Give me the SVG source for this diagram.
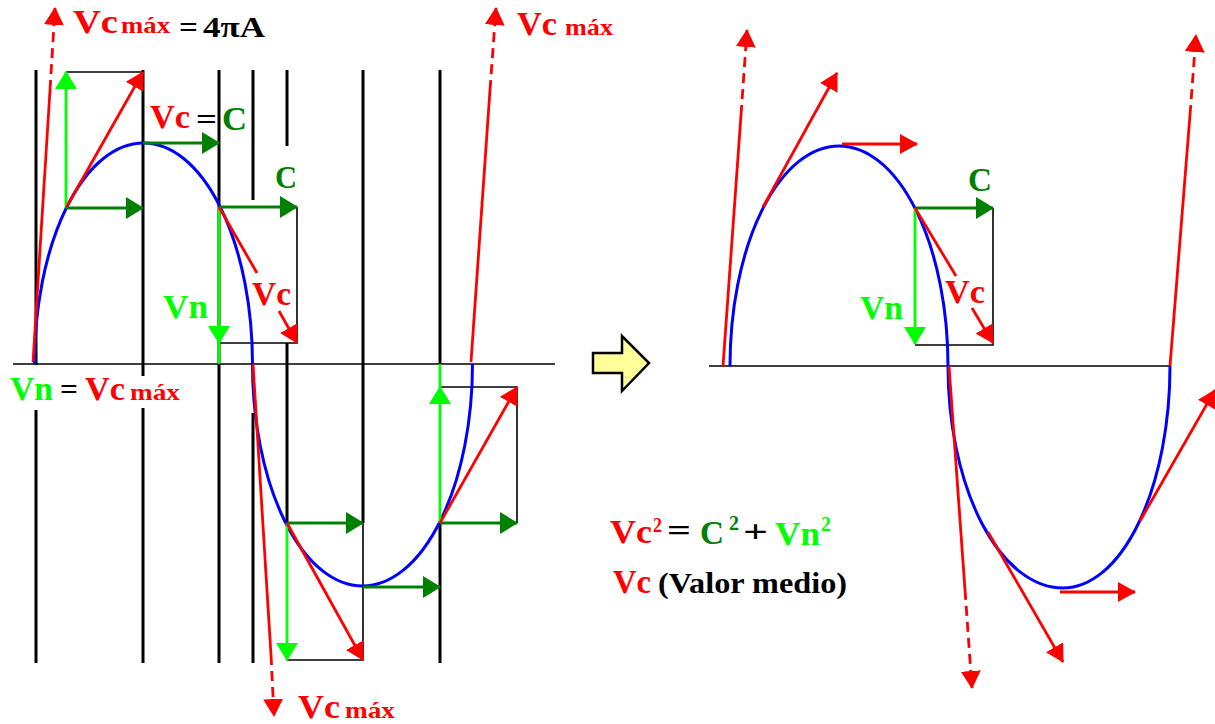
<svg xmlns="http://www.w3.org/2000/svg" width="1215" height="724" viewBox="0 0 1215 724">
<style>
.bg{fill:#fff}
.grid{stroke:#000;stroke-width:3;fill:none}
.thin{stroke:#000;stroke-width:1.6;fill:none}
.curve{stroke:#0000ff;stroke-width:3;fill:none}
.vr{stroke:#ff0000;stroke-width:2.8;fill:none}
.vrd{stroke:#ff0000;stroke-width:2.8;fill:none;stroke-dasharray:10 6}
.vg{stroke:#00ff00;stroke-width:2.8;fill:none}
.vdg{stroke:#008000;stroke-width:2.8;fill:none}
.t{font-family:"Liberation Serif","Times New Roman",serif;font-weight:bold}
.big{font-size:34px}
.sub{font-size:24px}
.r{fill:#ff0000}
.g{fill:#00ff00}
.dg{fill:#008000}
.k{fill:#000}
</style>
<defs>
<marker id="ar" viewBox="0 0 18 20" refX="17" refY="10" markerWidth="18" markerHeight="20" markerUnits="userSpaceOnUse" orient="auto"><path d="M0,0 L18,10 L0,20 z" fill="#ff0000"/></marker>
<marker id="ag" viewBox="0 0 18 22" refX="17" refY="11" markerWidth="18" markerHeight="22" markerUnits="userSpaceOnUse" orient="auto"><path d="M0,0 L18,11 L0,22 z" fill="#00ff00"/></marker>
<marker id="adg" viewBox="0 0 18 22" refX="17" refY="11" markerWidth="18" markerHeight="22" markerUnits="userSpaceOnUse" orient="auto"><path d="M0,0 L18,11 L0,22 z" fill="#008000"/></marker>
</defs>
<rect class="bg" x="0" y="0" width="1215" height="724"/>

<g id="left-grid">
<path class="grid" d="M36,70 V365 M36,410 V663 M143,70 V376 M143,408 V663 M219,70 V663 M253,70 V200 M253,413 V663 M287,70 V146 M287,343 V523 M363,70 V523 M440,70 V364 M440,523 V663"/>
<path class="thin" d="M13,364 H555 M66,72 H143 M219,343 H297 V207 M287,660 H363 V523 M440,387 H517 V523"/>
</g>

<g id="right-grid">
<path class="thin" d="M709,366 H1169 M915,345 H993 V208"/>
</g>

<g id="curves">
<path class="curve" d="M34.5,364 A109,221 0 0 1 252.5,364 A110,222 0 0 0 472.5,364"/>
<path class="curve" d="M730,366 A109,220 0 0 1 948,366 A115,222 0 0 0 1063,588 A107,222 0 0 0 1170,366"/>
</g>

<g id="connectors">
<path class="vr" d="M33,362 L50,90"/>
<path class="vrd" d="M50,90 L55,8" marker-end="url(#ar)"/>
<path class="vg" d="M66,208 L66,72" marker-end="url(#ag)"/>
<path class="vr" d="M66,208 L143,72" marker-end="url(#ar)"/>
<path class="vdg" d="M66,208 L143,208" marker-end="url(#adg)"/>
<path class="vdg" d="M143,143 L219,143" marker-end="url(#adg)"/>
<path class="vdg" d="M219,207 L297,207" marker-end="url(#adg)"/>
<path class="vg" d="M219,207 L219,343" marker-end="url(#ag)"/>
<path class="vg" d="M219,343 L219,364"/>
<path class="vr" d="M219,207 L257,273"/>
<path class="vr" d="M279,311 L297,343" marker-end="url(#ar)"/>
<path class="vr" d="M253,364 L271,655"/>
<path class="vrd" d="M271,655 L274,716" marker-end="url(#ar)"/>
<path class="vdg" d="M287,523 L363,523" marker-end="url(#adg)"/>
<path class="vg" d="M287,523 L287,660" marker-end="url(#ag)"/>
<path class="vr" d="M287,523 L363,660" marker-end="url(#ar)"/>
<path class="vdg" d="M363,587 L440,587" marker-end="url(#adg)"/>
<path class="vg" d="M440,523 L440,387" marker-end="url(#ag)"/>
<path class="vg" d="M440,387 L440,364"/>
<path class="vdg" d="M440,523 L517,523" marker-end="url(#adg)"/>
<path class="vr" d="M440,523 L517,387" marker-end="url(#ar)"/>
<path class="vr" d="M471,362 L490,90"/>
<path class="vrd" d="M490,90 L496,8" marker-end="url(#ar)"/>
<path class="vr" d="M723,366 L741,115"/>
<path class="vrd" d="M741,115 L747,30" marker-end="url(#ar)"/>
<path class="vr" d="M763,207 L837,73" marker-end="url(#ar)"/>
<path class="vr" d="M842,144 L917,144" marker-end="url(#ar)"/>
<path class="vdg" d="M915,208 L993,208" marker-end="url(#adg)"/>
<path class="vg" d="M915,208 L915,344" marker-end="url(#ag)"/>
<path class="vr" d="M915,208 L956,276"/>
<path class="vr" d="M972,308 L993,343" marker-end="url(#ar)"/>
<path class="vr" d="M949,366 L965,590"/>
<path class="vrd" d="M965,590 L972,688" marker-end="url(#ar)"/>
<path class="vr" d="M988,532 L1063,662" marker-end="url(#ar)"/>
<path class="vr" d="M1060,592 L1135,592" marker-end="url(#ar)"/>
<path class="vr" d="M1140,521 L1215,390" marker-end="url(#ar)"/>
<path class="vr" d="M1170,366 L1190,115"/>
<path class="vrd" d="M1190,115 L1196,35" marker-end="url(#ar)"/>
</g>

<g id="transition-arrow">
<polygon points="593,353 622,353 622,336 649,363 622,391 622,373 593,373" fill="#ffff99" stroke="#000" stroke-width="2.5" stroke-linejoin="miter"/>
</g>

<g id="labels-left">
<text class="t big r" x="73" y="33" textLength="45" lengthAdjust="spacingAndGlyphs">Vc</text>
<text class="t sub r" x="121" y="33" textLength="49" lengthAdjust="spacingAndGlyphs">máx</text>
<text class="t k" font-size="30" x="179" y="37" textLength="19" lengthAdjust="spacingAndGlyphs">=</text>
<text class="t k" font-size="29" x="203" y="37" textLength="62" lengthAdjust="spacingAndGlyphs">4πA</text>

<text class="t big r" x="517" y="35" textLength="40" lengthAdjust="spacingAndGlyphs">Vc</text>
<text class="t sub r" x="565" y="35" textLength="48" lengthAdjust="spacingAndGlyphs">máx</text>

<text class="t big r" x="150" y="128" textLength="40" lengthAdjust="spacingAndGlyphs">Vc</text>
<text class="t k" font-size="30" x="196" y="129" textLength="21" lengthAdjust="spacingAndGlyphs">=</text>
<text class="t big dg" x="222" y="130" textLength="25" lengthAdjust="spacingAndGlyphs">C</text>

<text class="t dg" font-size="31" x="275" y="188" textLength="22" lengthAdjust="spacingAndGlyphs">C</text>
<text class="t big r" x="252" y="305" textLength="39" lengthAdjust="spacingAndGlyphs">Vc</text>
<text class="t big g" x="163" y="318" textLength="45" lengthAdjust="spacingAndGlyphs">Vn</text>

<text class="t big g" x="10" y="400" textLength="43" lengthAdjust="spacingAndGlyphs">Vn</text>
<text class="t k" font-size="30" x="60" y="399" textLength="18" lengthAdjust="spacingAndGlyphs">=</text>
<text class="t big r" x="85" y="400" textLength="40" lengthAdjust="spacingAndGlyphs">Vc</text>
<text class="t sub r" x="130" y="400" textLength="50" lengthAdjust="spacingAndGlyphs">máx</text>

<text class="t big r" x="298" y="718" textLength="42" lengthAdjust="spacingAndGlyphs">Vc</text>
<text class="t sub r" x="345" y="718" textLength="50" lengthAdjust="spacingAndGlyphs">máx</text>
</g>

<g id="labels-right">
<text class="t big dg" x="968" y="191" textLength="24" lengthAdjust="spacingAndGlyphs">C</text>
<text class="t big g" x="860" y="319" textLength="43" lengthAdjust="spacingAndGlyphs">Vn</text>
<text class="t big r" x="945" y="303" textLength="40" lengthAdjust="spacingAndGlyphs">Vc</text>
</g>

<g id="formula">
<text class="t big r" x="610" y="543" textLength="42" lengthAdjust="spacingAndGlyphs">Vc</text>
<text class="t r" font-size="21" x="653" y="532" textLength="9" lengthAdjust="spacingAndGlyphs">2</text>
<text class="t k" font-size="32" x="667" y="541" textLength="24" lengthAdjust="spacingAndGlyphs">=</text>
<text class="t big dg" x="700" y="544" textLength="24" lengthAdjust="spacingAndGlyphs">C</text>
<text class="t dg" font-size="21" x="729" y="530" textLength="10" lengthAdjust="spacingAndGlyphs">2</text>
<text class="t k" font-size="32" x="743" y="542" textLength="25" lengthAdjust="spacingAndGlyphs">+</text>
<text class="t big g" x="775" y="545" textLength="45" lengthAdjust="spacingAndGlyphs">Vn</text>
<text class="t g" font-size="21" x="821" y="531" textLength="10" lengthAdjust="spacingAndGlyphs">2</text>
<text class="t big r" x="613" y="593" textLength="38" lengthAdjust="spacingAndGlyphs">Vc</text>
<text class="t k" font-size="29" x="658" y="593" textLength="189" lengthAdjust="spacingAndGlyphs">(Valor medio)</text>
</g>
</svg>
